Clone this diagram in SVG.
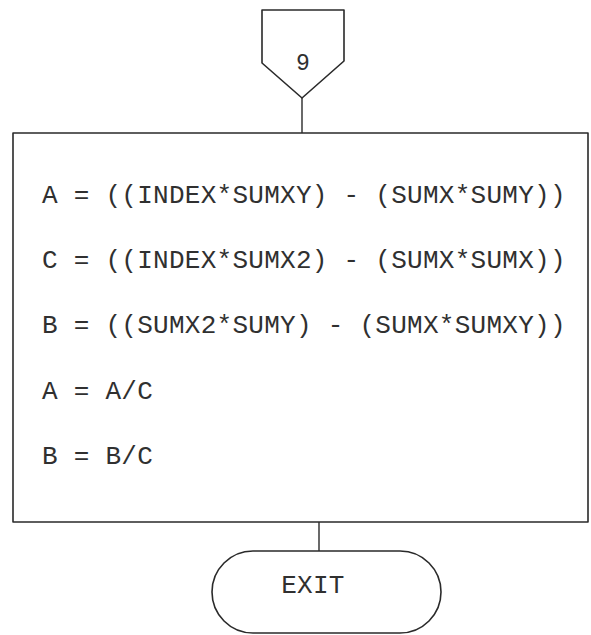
<svg xmlns="http://www.w3.org/2000/svg" width="591" height="635" viewBox="0 0 591 635">
  <style>
    .shape { fill: #ffffff; stroke: #2a2a2a; stroke-width: 1.6; stroke-linejoin: round; }
    .wire { fill: none; stroke: #2a2a2a; stroke-width: 1.4; }
    .code { font-family: "Liberation Mono", "Courier New", monospace; font-size: 26px; letter-spacing: 0.27px; fill: #303030; }
    .mid { text-anchor: middle; }
  </style>
  <rect width="591" height="635" fill="#ffffff"/>

  <!-- connectors -->
  <g id="connectors">
    <line class="wire" x1="302" y1="98" x2="302" y2="133"/>
    <line class="wire" x1="319" y1="522" x2="319" y2="551"/>
  </g>

  <!-- off-page connector 9 -->
  <g id="node-connector-9">
    <polygon class="shape" points="262,10 344,10 344,61 302,98 262,63"/>
    <text class="code mid" x="303" y="70" style="font-size:23px">9</text>
  </g>

  <!-- process block -->
  <g id="node-process">
    <rect class="shape" x="13" y="133" width="575" height="389"/>
    <text class="code" x="42" y="203">A = ((INDEX*SUMXY) - (SUMX*SUMY))</text>
    <text class="code" x="42" y="268">C = ((INDEX*SUMX2) - (SUMX*SUMX))</text>
    <text class="code" x="42" y="333">B = ((SUMX2*SUMY) - (SUMX*SUMXY))</text>
    <text class="code" x="42" y="399">A = A/C</text>
    <text class="code" x="42" y="464">B = B/C</text>
  </g>

  <!-- terminator -->
  <g id="node-exit">
    <rect class="shape" x="212" y="551" width="229" height="82" rx="41" ry="41"/>
    <text class="code mid" x="313" y="593">EXIT</text>
  </g>
</svg>
